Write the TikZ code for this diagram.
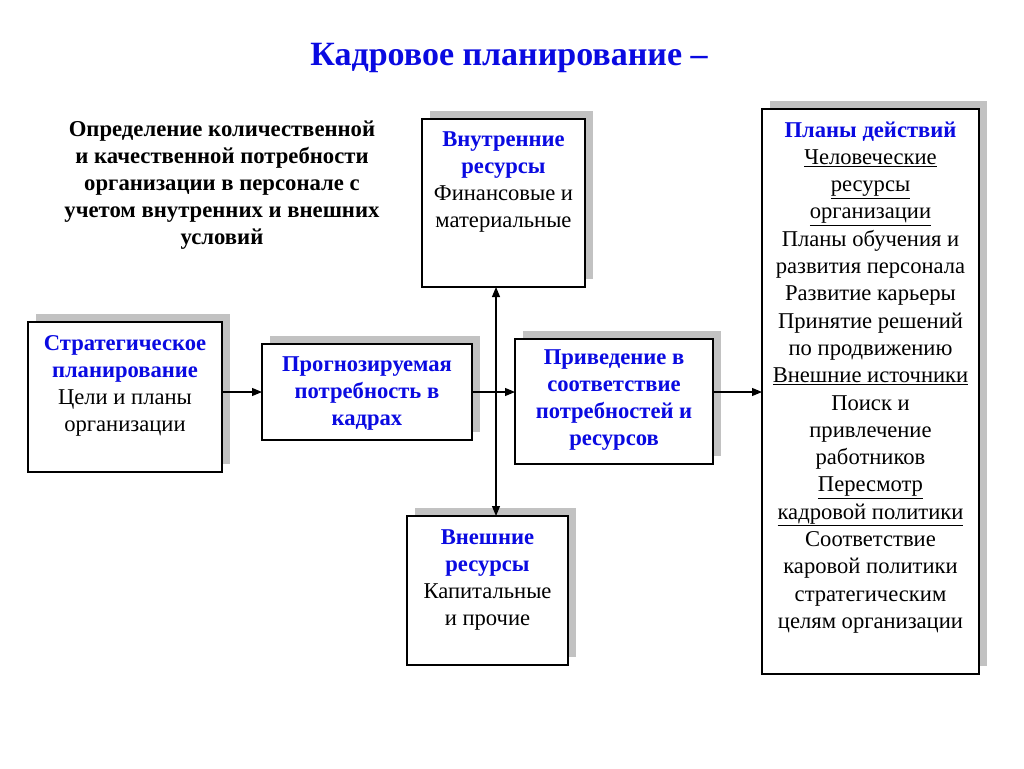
\documentclass[tikz,border=0pt]{standalone}
\usepackage{fontspec}
\setmainfont{Liberation Serif}
\usetikzlibrary{shadows,arrows.meta}
\definecolor{tblue}{RGB}{10,10,225}
\newcommand{\hd}[1]{\textbf{\color{tblue}#1}}
\newcommand{\bx}[4]{\parbox[c][#2][t]{#1}{\centering\fontsize{22.6pt}{27.3pt}\selectfont\rule{0pt}{#3}#4\par}}
\begin{document}
\begin{tikzpicture}[x=1pt,y=-1pt,
  card/.style={draw=black,line width=1.3pt,fill=white,inner sep=0pt,outer sep=0pt,anchor=north west,
    drop shadow={shadow xshift=8pt,shadow yshift=8pt,fill=black!24,opacity=1}},
  conn/.style={line width=1.1pt,-{Triangle[length=10pt,width=8pt]}}]
\useasboundingbox (0,0) rectangle (1024,768);
\node[font=\fontsize{34pt}{40pt}\selectfont\bfseries,text=tblue] (title) at (509,58) {Кадровое планирование –};
\node[font=\fontsize{22.7pt}{27pt}\selectfont\bfseries,align=center,anchor=north] (def) at (222,117)
  {Определение количественной\\и качественной потребности\\организации в персонале с\\учетом внутренних и внешних\\условий};
\node[card] (strat) at (28,322) {\bx{194pt}{150pt}{28pt}{\hd{Стратегическое\\планирование}\\Цели и планы\\организации}};
\node[card] (prog) at (262,344) {\bx{210pt}{96pt}{27pt}{\hd{Прогнозируемая\\потребность в\\кадрах}}};
\node[card] (vnutr) at (422,119) {\bx{163pt}{168pt}{27pt}{\hd{Внутренние\\ресурсы}\\Финансовые и\\материальные}};
\node[card] (prived) at (515,339) {\bx{198pt}{125pt}{25pt}{\hd{Приведение в\\соответствие\\потребностей и\\ресурсов}}};
\node[card] (vnesh) at (407,516) {\bx{161pt}{149pt}{28pt}{\hd{Внешние\\ресурсы}\\Капитальные\\и прочие}};
\node[card] (plans) at (762,109) {\bx{217pt}{565pt}{28pt}{\hd{Планы действий}\\\underline{Человеческие}\\\underline{ресурсы}\\\underline{организации}\\Планы обучения и\\развития персонала\\Развитие карьеры\\Принятие решений\\по продвижению\\\underline{Внешние источники}\\Поиск и\\привлечение\\работников\\\underline{Пересмотр}\\\underline{кадровой политики}\\Соответствие\\каровой политики\\стратегическим\\целям организации}};
\coordinate (vx) at (496,392);
\draw[conn] (strat.east|-vx) -- (prog.west|-vx);
\draw[conn] (prog.east|-vx) -- (prived.west|-vx);
\draw[conn] (prived.east|-vx) -- (plans.west|-vx);
\draw[conn] (vx) -- (vx|-vnutr.south);
\draw[conn] (vx) -- (vx|-vnesh.north);
\end{tikzpicture}
\end{document}
